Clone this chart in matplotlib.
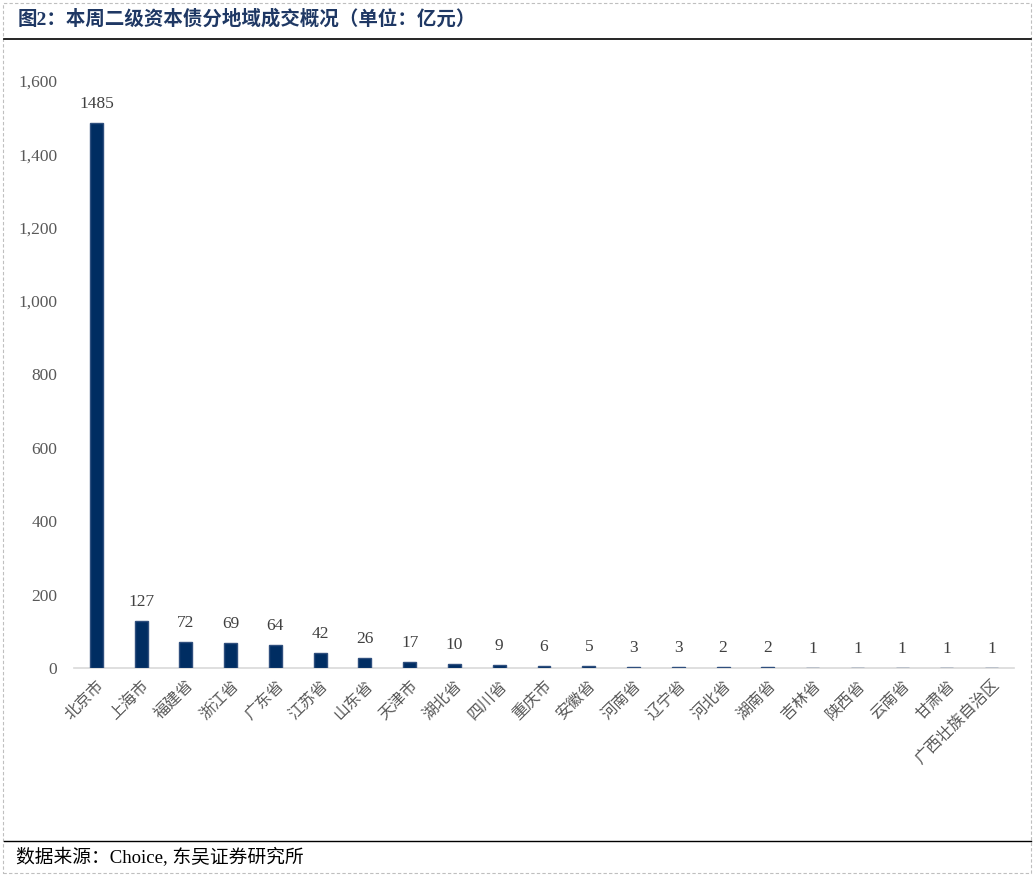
import matplotlib.pyplot as plt
from matplotlib.patches import Rectangle

plt.rcParams['font.family'] = ['Liberation Serif', 'Noto Sans CJK SC']

regions = ['北京市', '上海市', '福建省', '浙江省', '广东省', '江苏省', '山东省', '天津市',
           '湖北省', '四川省', '重庆市', '安徽省', '河南省', '辽宁省', '河北省', '湖南省',
           '吉林省', '陕西省', '云南省', '甘肃省', '广西壮族自治区']
volumes = [1485, 127, 72, 69, 64, 42, 26, 17, 10, 9, 6, 5, 3, 3, 2, 2, 1, 1, 1, 1, 1]
yticks = [0, 200, 400, 600, 800, 1000, 1200, 1400, 1600]

W, H = 1036, 876
fig = plt.figure(figsize=(W / 100, H / 100), dpi=100)

# dashed outer frame
fig.patches.append(Rectangle((3 / W, 1 - 873 / H), 1028 / W, 870 / H, transform=fig.transFigure,
                             fill=False, ec='#bfbfbf', lw=0.8, ls=(0, (3, 2))))

fig.text(18 / W, 1 - 19 / H, '图2：本周二级资本债分地域成交概况（单位：亿元）', fontsize=14,
         fontweight='bold', color='#1f3864', va='center')
fig.add_artist(plt.Line2D([4 / W, 1031 / W], [1 - 39 / H, 1 - 39 / H], color='black', lw=1.2))
fig.add_artist(plt.Line2D([4 / W, 1031 / W], [1 - 841 / H, 1 - 841 / H], color='black', lw=1.0))
fig.text(16 / W, 1 - 858 / H, '数据来源：Choice, 东吴证券研究所', fontsize=13.5, color='black', va='center')

ax = fig.add_axes([74 / W, 1 - 668 / H, 940 / W, 587 / H])
x = range(len(regions))
ax.bar(x, volumes, width=0.29, color='#002d62', edgecolor='#2f4f7e', linewidth=1.0, zorder=3)
for i, v in enumerate(volumes):
    ax.text(i, v + 30, str(v), ha='center', va='bottom', fontsize=12.5, color='#404040')

ax.set_ylim(0, 1600)
ax.set_xlim(-0.5, len(regions) - 0.5)
ax.set_yticks(yticks)
ax.set_yticklabels([f'{t:,}' for t in yticks], fontsize=12.5, color='#595959')
ax.set_xticks(list(x))
ax.set_xticklabels(regions, rotation=45, ha='right', rotation_mode='anchor',
                   fontsize=11.5, color='#595959')
ax.tick_params(axis='both', length=0)
ax.tick_params(axis='y', pad=12)
ax.tick_params(axis='x', pad=7)
for s in ['top', 'right', 'left']:
    ax.spines[s].set_visible(False)
ax.spines['bottom'].set_color('#d9d9d9')
ax.spines['bottom'].set_linewidth(1.2)
ax.spines['bottom'].set_zorder(1)

fig.savefig('out.png', dpi=100)
